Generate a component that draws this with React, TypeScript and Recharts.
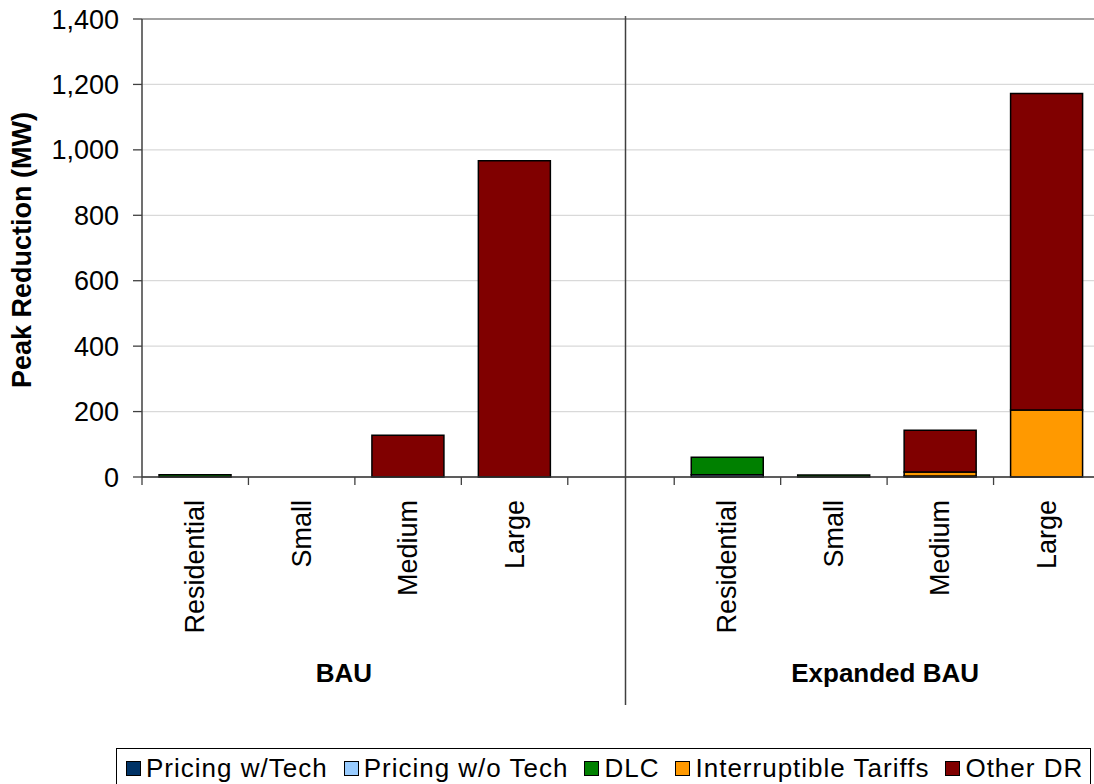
import React from 'react';
import { BarChart, Bar, XAxis, YAxis, CartesianGrid, ReferenceLine } from 'recharts';

// Category slots along the x axis (empty slot separates the two scenarios)
const CATEGORIES = ['Residential', 'Small', 'Medium', 'Large', '', 'Residential', 'Small', 'Medium', 'Large'];
// Scenario groups: label and the slot range it covers
const GROUP_NAMES = ['BAU', 'Expanded BAU'];
const GROUP_FIRST = [0, 5];
const GROUP_LAST = [3, 8];

// Peak reduction (MW) by program type, one value per slot
const PRICING_WITH_TECH = [0, 0, 0, 0, 0, 0, 0, 0, 0];
const PRICING_WITHOUT_TECH = [0, 0, 0, 0, 0, 7, 0, 0, 0];
const DLC = [7, 0, 0, 0, 0, 53, 6, 3, 0];
const INTERRUPTIBLE_TARIFFS = [0, 0, 0, 0, 0, 0, 0, 12, 205];
const OTHER_DR = [0, 0, 128, 967, 0, 0, 0, 128, 967];

const Y_TICKS = [0, 200, 400, 600, 800, 1000, 1200, 1400];

const SERIES = [
  { key: 'pwt', name: 'Pricing w/Tech', color: '#003366', values: PRICING_WITH_TECH },
  { key: 'pwot', name: 'Pricing w/o Tech', color: '#99CCFF', values: PRICING_WITHOUT_TECH },
  { key: 'dlc', name: 'DLC', color: '#008000', values: DLC },
  { key: 'int', name: 'Interruptible Tariffs', color: '#FF9900', values: INTERRUPTIBLE_TARIFFS },
  { key: 'other', name: 'Other DR', color: '#800000', values: OTHER_DR },
];

const data = CATEGORIES.map((cat, i) => {
  const row: Record<string, string | number> = { slot: String(i), cat };
  SERIES.forEach((s) => {
    row[s.key] = s.values[i];
  });
  return row;
});

// Layout
const FONT = '"Liberation Sans", Arial, Helvetica, sans-serif';
const CHART_W = 1110;
const CHART_H = 784;
const MARGIN = { top: 19, right: 10, bottom: 0, left: 0 };
const Y_AXIS_W = 142;
const X_AXIS_H = 307;
const PLOT_W = CHART_W - MARGIN.left - MARGIN.right - Y_AXIS_W;
const STEP = PLOT_W / CATEGORIES.length;
const AXIS_Y = CHART_H - MARGIN.bottom - X_AXIS_H;
const GROUP_NUDGE = [-11, -2];

const fmt = (v: number) => v.toLocaleString('en-US');

const CategoryTick = (props: any) => {
  const { x, payload } = props;
  const i = Number(payload.value);
  const label = CATEGORIES[i];
  const parts: React.ReactNode[] = [];
  parts.push(
    <line key="t" x1={x - STEP / 2} x2={x - STEP / 2} y1={AXIS_Y} y2={AXIS_Y + 8} stroke="#404040" strokeWidth={1.3} />
  );
  if (i === CATEGORIES.length - 1) {
    parts.push(
      <line key="te" x1={x + STEP / 2} x2={x + STEP / 2} y1={AXIS_Y} y2={AXIS_Y + 8} stroke="#404040" strokeWidth={1.3} />
    );
  }
  if (label) {
    parts.push(
      <text
        key="l"
        transform={`translate(${x + 9},${AXIS_Y + 23}) rotate(-90)`}
        textAnchor="end"
        fontSize={27}
        fontFamily={FONT}
        fill="#000"
      >
        {label}
      </text>
    );
  } else {
    // scenario separator
    parts.push(
      <line key="sep" x1={x + 4.5} x2={x + 4.5} y1={16} y2={705} stroke="#404040" strokeWidth={1.5} />
    );
  }
  const g = GROUP_FIRST.indexOf(i);
  if (g >= 0) {
    const cx = x + ((GROUP_LAST[g] - GROUP_FIRST[g]) / 2) * STEP + GROUP_NUDGE[g];
    parts.push(
      <text key="g" x={cx} y={682} textAnchor="middle" fontSize={26} fontWeight="bold" fontFamily={FONT} fill="#000">
        {GROUP_NAMES[g]}
      </text>
    );
  }
  return <g>{parts}</g>;
};

const YTitle = () => (
  <text
    transform={`translate(31,250) rotate(-90)`}
    textAnchor="middle"
    fontSize={27}
    fontWeight="bold"
    fontFamily={FONT}
    fill="#000"
  >
    Peak Reduction (MW)
  </text>
);

const LegendBox = () => (
  <div
    style={{
      position: 'absolute',
      left: 116,
      top: 748,
      width: 975,
      height: 40,
      border: '1px solid #000',
      boxSizing: 'border-box',
      display: 'flex',
      alignItems: 'center',
      paddingLeft: 9,
      paddingBottom: 0,
      background: '#fff',
      fontFamily: FONT,
      fontSize: 26,
      letterSpacing: 1,
      color: '#000',
      whiteSpace: 'nowrap',
    }}
  >
    {SERIES.map((s) => (
      <div key={s.key} style={{ display: 'flex', alignItems: 'center', marginRight: 16 }}>
        <span
          style={{
            display: 'inline-block',
            width: 15,
            height: 15,
            background: s.color,
            border: '1px solid #000',
            boxSizing: 'border-box',
            marginRight: 5,
          }}
        />
        <span style={{ lineHeight: '30px' }}>{s.name}</span>
      </div>
    ))}
  </div>
);

export default function App() {
  return (
    <div
      style={{
        position: 'fixed',
        left: 0,
        top: 0,
        width: 1094,
        height: 784,
        overflow: 'hidden',
        background: '#fff',
      }}
    >
      <BarChart width={CHART_W} height={CHART_H} data={data} margin={MARGIN} barCategoryGap="16%">
        <CartesianGrid vertical={false} stroke="#d9d9d9" strokeWidth={1.3} />
        <ReferenceLine y={1400} stroke="#8c8c8c" strokeWidth={1.5} />
        <XAxis
          dataKey="slot"
          interval={0}
          height={X_AXIS_H}
          tickLine={false}
          axisLine={{ stroke: '#303030', strokeWidth: 1.5 }}
          tick={<CategoryTick />}
        />
        <YAxis
          width={Y_AXIS_W}
          domain={[0, 1400]}
          ticks={Y_TICKS}
          interval={0}
          tickFormatter={fmt}
          tickSize={9}
          tickMargin={14}
          tick={{ fontSize: 27, fill: '#000', fontFamily: FONT }}
          tickLine={{ stroke: '#404040', strokeWidth: 1.3 }}
          axisLine={{ stroke: '#404040', strokeWidth: 1.5 }}
          label={<YTitle />}
        />
        {SERIES.map((s) => (
          <Bar
            key={s.key}
            dataKey={s.key}
            name={s.name}
            stackId="dr"
            fill={s.color}
            stroke="#000"
            strokeWidth={1.5}
            isAnimationActive={false}
          />
        ))}
      </BarChart>
      <LegendBox />
    </div>
  );
}
